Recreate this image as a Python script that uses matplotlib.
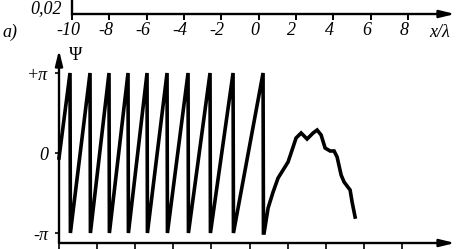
import matplotlib
matplotlib.use("Agg")
import matplotlib.pyplot as plt
from matplotlib.transforms import ScaledTranslation
import numpy as np

plt.rcParams['font.family'] = ['Liberation Serif', 'DejaVu Serif']
plt.rcParams['axes.unicode_minus'] = False

# top scale, x/lambda
top_ticks = [-10, -8, -6, -4, -2, 0, 2, 4, 6, 8]
top_labels = ["-10", "-8", "-6", "-4", "-2", "0", "2", "4", "6", "8"]

# lower panel: phase Psi vs position (bottom ticks unlabeled, 0..9)
bottom_ticks = [0, 1, 2, 3, 4, 5, 6, 7, 8, 9]
peak_x = [0.289, 0.814, 1.312, 1.811, 2.310, 2.835, 3.386, 3.963, 4.567, 5.354]
start_x, start_y = 0.0, -0.196
tail_x = [5.381, 5.486, 5.617, 5.748, 5.879, 6.010, 6.142, 6.220, 6.352, 6.509,
          6.667, 6.772, 6.877, 6.982, 7.113, 7.218, 7.297, 7.402, 7.480, 7.638,
          7.690, 7.769]
tail_y = [-3.142, -2.160, -1.532, -0.982, -0.668, -0.353, 0.236, 0.589, 0.786, 0.550,
          0.786, 0.903, 0.707, 0.196, 0.079, 0.079, -0.157, -0.864, -1.139, -1.453,
          -1.925, -2.514]

W, H = 457, 249
fig = plt.figure(figsize=(W / 100, H / 100), dpi=100)

def px_rect(x0, y0, x1, y1):
    return [x0 / W, 1 - y1 / H, (x1 - x0) / W, (y1 - y0) / H]

arrow = dict(arrowstyle='-|>,head_length=0.9,head_width=0.22', color='k', lw=1.7,
             shrinkA=0, shrinkB=0, mutation_scale=10)

FS = 13

# ---- top axis
ax0 = fig.add_axes(px_rect(72, 1, 455, 14))
ax0.set_xlim(-10, 10.52)
ax0.set_ylim(0, 1)
for s in ['top', 'right', 'bottom']:
    ax0.spines[s].set_visible(False)
ax0.spines['left'].set_linewidth(1.7)
ax0.annotate('', xy=(1, 0), xytext=(0, 0), xycoords='axes fraction', arrowprops=arrow)
ax0.set_yticks([])
ax0.set_xticks(top_ticks)
ax0.set_xticklabels(top_labels, fontsize=FS, style='italic')
ax0.tick_params(axis='x', direction='out', length=4, width=1.4, pad=1.5)
off = ScaledTranslation(-4 / 100, 0, fig.dpi_scale_trans)
for lab in ax0.get_xticklabels():
    lab.set_transform(lab.get_transform() + off)
fig.text(62 / W, 1 - 9 / H, "0,02", ha='right', va='center', fontsize=FS, style='italic')
fig.text(10 / W, 1 - 32 / H, "a)", ha='center', va='center', fontsize=FS, style='italic')
fig.text(440 / W, 1 - 32 / H, "x/λ", ha='center', va='center', fontsize=FS, style='italic')

# ---- lower panel
ax = fig.add_axes(px_rect(59, 50, 455, 243))
ax.set_xlim(0, 10.39)
ax.set_ylim(-3.534, 4.045)
for s in ax.spines.values():
    s.set_visible(False)
ax.annotate('', xy=(1, 0), xytext=(0, 0), xycoords='axes fraction', arrowprops=arrow)
ax.annotate('', xy=(0, 1), xytext=(0, 0), xycoords='axes fraction', arrowprops=arrow)
ax.set_xticks(bottom_ticks)
ax.set_xticklabels([])
ax.tick_params(axis='x', direction='out', length=4, width=1.2)
ax.set_yticks([np.pi, 0, -np.pi])
ax.set_yticklabels(["+π", "0", "-π"], fontsize=FS, style='italic')
ax.tick_params(axis='y', direction='out', length=3, width=1.2, pad=5)

xs, ys = [start_x], [start_y]
for px in peak_x:
    xs += [px, px + 0.01]
    ys += [np.pi, -np.pi]
xs += tail_x
ys += tail_y
ax.plot(xs, ys, color='k', lw=2.6, solid_joinstyle='miter', clip_on=False)

ax.text(0.042, 0.97, "Ψ", transform=ax.transAxes, ha='center', va='center', fontsize=FS)

fig.savefig("out.png", dpi=100)
